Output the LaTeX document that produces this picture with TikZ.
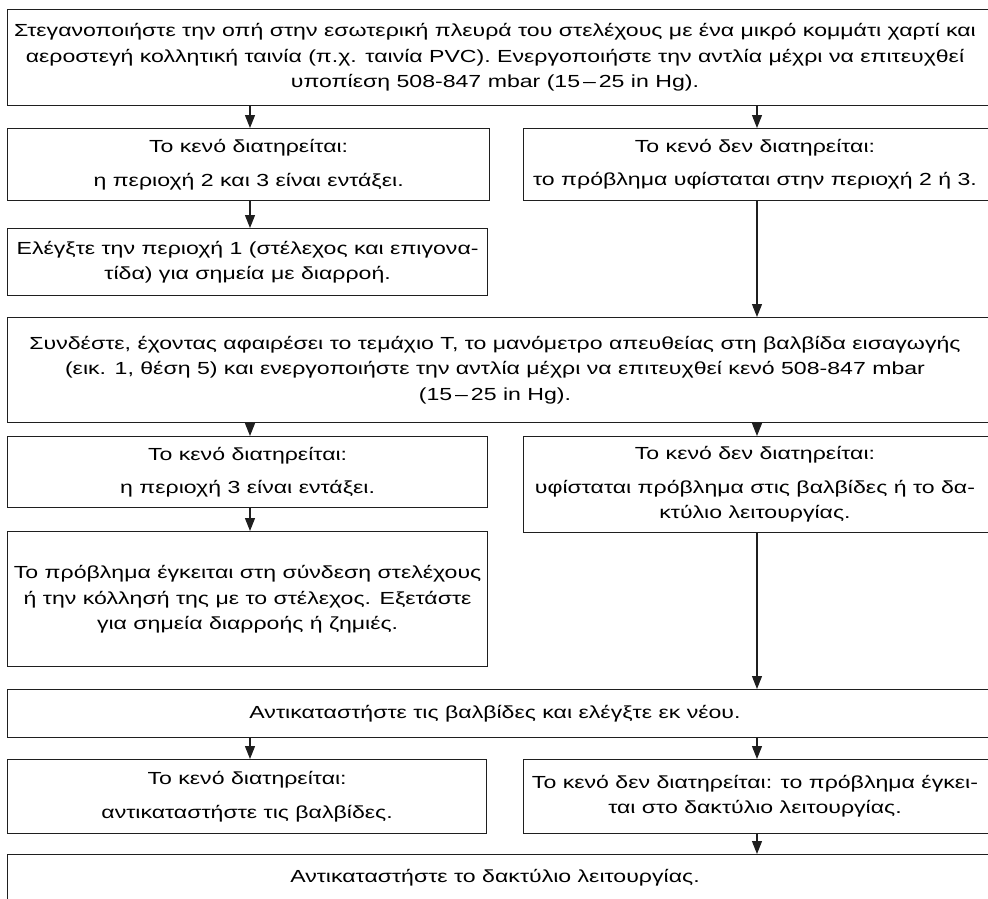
\documentclass[tikz,border=0pt]{standalone}
\usepackage{fontspec}
\setmainfont{Liberation Sans}[FakeStretch=1.32]
\usetikzlibrary{arrows.meta}
% fixed line height and depth so that every text line is centred alike
\newcommand\lnstrut{\rule[-4.5pt]{0pt}{19pt}}
\begin{document}
\begin{tikzpicture}[x=1pt,y=-1pt,
  box/.style={draw=black!88, line width=1.2pt, rectangle, inner sep=0pt, anchor=north west},
  txt/.style={align=center, inner sep=0pt, font=\fontsize{17.5}{25.5}\selectfont},
  flow/.style={draw=black!88, line width=1.1pt, -{Triangle[length=13pt,width=10pt]}}]
\useasboundingbox (0,0) rectangle (988,899);
\clip (0,0) rectangle (988,899);

% columns of the connectors
\coordinate (colL) at (250,0);
\coordinate (colR) at (757,0);

% boxes
\node[box, minimum width=993pt, minimum height=96pt]  (b1)  at (7,9)    {};
\node[box, minimum width=482pt, minimum height=72pt]  (b2)  at (7,128)  {};
\node[box, minimum width=472pt, minimum height=72pt]  (b3)  at (523,128){};
\node[box, minimum width=480pt, minimum height=67pt]  (b4)  at (7,228)  {};
\node[box, minimum width=993pt, minimum height=105pt] (b5)  at (7,317)  {};
\node[box, minimum width=480pt, minimum height=71pt]  (b6)  at (7,436)  {};
\node[box, minimum width=472pt, minimum height=96pt]  (b7)  at (523,436){};
\node[box, minimum width=480pt, minimum height=135pt] (b8)  at (7,531)  {};
\node[box, minimum width=993pt, minimum height=48pt]  (b9)  at (7,689)  {};
\node[box, minimum width=479pt, minimum height=74pt]  (b10) at (7,759)  {};
\node[box, minimum width=472pt, minimum height=74pt]  (b11) at (523,759){};
\node[box, minimum width=993pt, minimum height=70pt]  (b12) at (7,854)  {};

% texts
\node[txt] (t1) at (495,57) {\lnstrut Στεγανοποιήστε την οπή στην εσωτερική πλευρά του στελέχους με ένα μικρό κομμάτι χαρτί και\\
\lnstrut αεροστεγή κολλητική ταινία (π.χ. ταινία PVC). Ενεργοποιήστε την αντλία μέχρι να επιτευχθεί\\
\lnstrut υποπίεση 508-847 mbar (15\,–\,25 in Hg).};
\node[txt] (t2) at (b2.center) {\lnstrut Το κενό διατηρείται:\\[8pt]\lnstrut η περιοχή 2 και 3 είναι εντάξει.};
\node[txt] (t3) at (755,164) {\lnstrut Το κενό δεν διατηρείται:\\[8pt]\lnstrut το πρόβλημα υφίσταται στην περιοχή 2 ή 3.};
\node[txt] (t4) at (b4.center) {\lnstrut Ελέγξτε την περιοχή 1 (στέλεχος και επιγονα-\\\lnstrut τίδα) για σημεία με διαρροή.};
\node[txt] (t5) at (495,369.5) {\lnstrut Συνδέστε, έχοντας αφαιρέσει το τεμάχιο Τ, το μανόμετρο απευθείας στη βαλβίδα εισαγωγής\\
\lnstrut (εικ. 1, θέση 5) και ενεργοποιήστε την αντλία μέχρι να επιτευχθεί κενό 508-847 mbar\\
\lnstrut (15\,–\,25 in Hg).};
\node[txt] (t6) at (b6.center) {\lnstrut Το κενό διατηρείται:\\[8pt]\lnstrut η περιοχή 3 είναι εντάξει.};
\node[txt] (t7) at (755,484) {\lnstrut Το κενό δεν διατηρείται:\\[8pt]\lnstrut υφίσταται πρόβλημα στις βαλβίδες ή το δα-\\\lnstrut κτύλιο λειτουργίας.};
\node[txt] (t8) at (b8.center) {\lnstrut Το πρόβλημα έγκειται στη σύνδεση στελέχους\\\lnstrut ή την κόλλησή της με το στέλεχος. Εξετάστε\\\lnstrut για σημεία διαρροής ή ζημιές.};
\node[txt] (t9) at (495,713) {\lnstrut Αντικαταστήστε τις βαλβίδες και ελέγξτε εκ νέου.};
\node[txt] (t10) at (b10.center) {\lnstrut Το κενό διατηρείται:\\[8pt]\lnstrut αντικαταστήστε τις βαλβίδες.};
\node[txt] (t11) at (755,796) {\lnstrut Το κενό δεν διατηρείται: το πρόβλημα έγκει-\\\lnstrut ται στο δακτύλιο λειτουργίας.};
\node[txt] (t12) at (495,877) {\lnstrut Αντικαταστήστε το δακτύλιο λειτουργίας.};

% connectors
\draw[flow] (b1.south -| colL) -- (b2.north -| colL);
\draw[flow] (b1.south -| colR) -- (b3.north -| colR);
\draw[flow] (b2.south -| colL) -- (b4.north -| colL);
\draw[flow] (b3.south -| colR) -- (b5.north -| colR);
\draw[flow] (b5.south -| colL) -- (b6.north -| colL);
\draw[flow] (b5.south -| colR) -- (b7.north -| colR);
\draw[flow] (b6.south -| colL) -- (b8.north -| colL);
\draw[flow] (b7.south -| colR) -- (b9.north -| colR);
\draw[flow] (b9.south -| colL) -- (b10.north -| colL);
\draw[flow] (b9.south -| colR) -- (b11.north -| colR);
\draw[flow] (b11.south -| colR) -- (b12.north -| colR);
\end{tikzpicture}
\end{document}
